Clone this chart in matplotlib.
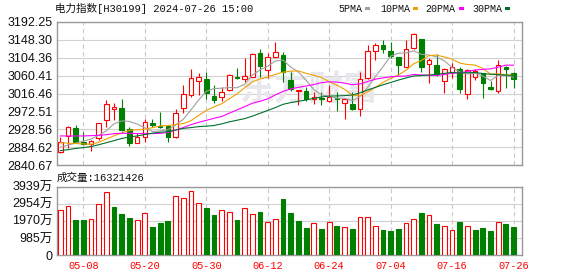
import matplotlib
matplotlib.use('Agg')
import matplotlib.pyplot as plt
from matplotlib.patches import Rectangle
import numpy as np
import pandas as pd

# ---------------- data ----------------
dates = ['04-30', '05-06', '05-07', '05-08', '05-09', '05-10', '05-13', '05-14', '05-15', '05-16',
         '05-17', '05-20', '05-21', '05-22', '05-23', '05-24', '05-27', '05-28', '05-29', '05-30',
         '05-31', '06-03', '06-04', '06-05', '06-06', '06-07', '06-11', '06-12', '06-13', '06-14',
         '06-17', '06-18', '06-19', '06-20', '06-21', '06-24', '06-25', '06-26', '06-27', '06-28',
         '07-01', '07-02', '07-03', '07-04', '07-05', '07-08', '07-09', '07-10', '07-11', '07-12',
         '07-15', '07-16', '07-17', '07-18', '07-19', '07-22', '07-23', '07-24', '07-25', '07-26']

opens = [2874.1, 2912.5, 2932.0, 2898.6, 2892.9, 2906.8, 2951.6, 2977.7, 2981.0, 2928.8,
         2896.1, 2909.2, 2944.3, 2936.9, 2936.9, 2909.2, 2980.2, 3012.0, 3047.9, 3052.8,
         3010.3, 3007.1, 3025.0, 3057.7, 3052.8, 3057.7, 3114.8, 3074.0, 3105.0, 3110.7,
         3049.5, 3023.4, 3022.6, 3002.2, 3006.3, 2998.9, 3005.5, 2992.4, 2990.8, 2977.7,
         3053.6, 3120.5, 3135.2, 3120.5, 3105.0, 3082.1, 3127.0, 3149.0, 3088.7, 3086.2,
         3047.9, 3069.9, 3075.6, 3014.4, 3057.7, 3065.8, 3031.6, 3023.4, 3080.5, 3067.4]

closes = [2898.6, 2933.7, 2898.6, 2892.9, 2901.0, 2943.5, 2990.8, 2984.2, 2927.2, 2894.5,
          2910.8, 2945.9, 2938.6, 2934.5, 2909.2, 2967.9, 3015.2, 3053.6, 3056.0, 3016.9,
          3000.6, 3020.1, 3061.7, 3053.6, 3059.3, 3113.1, 3084.6, 3105.0, 3118.8, 3069.9,
          3026.7, 3025.0, 3002.2, 3007.1, 3003.8, 3008.7, 3002.2, 3003.0, 2977.7, 3051.1,
          3121.3, 3135.2, 3124.5, 3108.2, 3086.2, 3124.5, 3161.3, 3082.1, 3098.4, 3063.4,
          3075.6, 3082.1, 3026.7, 3073.9, 3072.3, 3041.3, 3026.7, 3086.2, 3075.6, 3051.1]

highs = [2909.2, 2937.0, 2938.6, 2923.1, 2902.7, 2944.5, 3000.6, 2992.4, 3003.0, 2935.3,
         2920.6, 2953.2, 2953.2, 2972.0, 2939.4, 2977.7, 3037.3, 3076.4, 3067.4, 3069.1,
         3036.4, 3033.2, 3064.2, 3078.1, 3102.5, 3116.4, 3125.4, 3114.8, 3143.3, 3118.8,
         3069.9, 3025.8, 3033.2, 3019.3, 3020.9, 3037.3, 3020.9, 3004.6, 3020.9, 3069.9,
         3135.2, 3139.2, 3147.4, 3143.3, 3106.6, 3147.4, 3163.7, 3150.0, 3104.2, 3112.3,
         3078.1, 3090.3, 3082.1, 3075.6, 3075.6, 3067.4, 3047.9, 3098.4, 3083.8, 3069.9]

lows = [2871.7, 2882.3, 2896.1, 2890.4, 2876.6, 2902.7, 2933.7, 2951.6, 2925.5, 2888.0,
        2894.5, 2897.8, 2933.7, 2931.2, 2898.6, 2907.5, 2969.5, 3007.1, 3012.0, 3003.8,
        2992.4, 2997.3, 3023.4, 3052.8, 3045.4, 3056.5, 3056.0, 3053.6, 3104.2, 3045.4,
        3022.6, 2988.3, 2998.1, 2989.9, 2988.3, 2996.5, 2974.5, 2954.9, 2976.1, 2962.2,
        3051.9, 3098.4, 3114.8, 3104.2, 3061.7, 3081.0, 3126.2, 3069.9, 3043.0, 3059.3,
        3018.5, 3053.6, 3016.9, 3002.2, 3049.5, 3006.3, 3026.0, 3018.5, 3030.7, 3030.7]

# volume in 万
volumes = [2594, 2824, 2017, 2017, 2056, 2940, 3631, 2766, 2363, 2152,
           2017, 2421, 1614, 1864, 1960, 3400, 3285, 3689, 2997, 2709,
           2305, 2594, 2478, 2017, 2709, 2363, 2478, 1902, 2075, 3228,
           2440, 1960, 1575, 1844, 1498, 1902, 1671, 1614, 1498, 2171,
           2171, 1671, 1441, 1383, 1498, 1844, 2075, 2440, 2305, 1787,
           1671, 1441, 1902, 1671, 1441, 1556, 1383, 1902, 1787, 1632]

# moving-average values for the warm-up sessions
ma5_head = [2885.0, 2890.0, 2895.0, 2900.0]
ma10_head = [2896.0, 2895.0, 2894.0, 2893.0, 2892.0, 2897.0, 2905.0, 2913.0, 2920.0]
ma20_head = [2912.5, 2912.5, 2912.5, 2912.5, 2913.3, 2914.1, 2915.7, 2918.2, 2919.0, 2919.0,
             2918.5, 2918.2, 2918.2, 2919.0, 2921.0, 2927.0, 2933.0, 2940.0, 2946.0]
ma30_head = [2876.6, 2879.0, 2882.0, 2884.0, 2886.5, 2891.0, 2896.0, 2901.0, 2906.5, 2910.0,
             2912.5, 2916.0, 2919.5, 2921.5, 2923.0, 2927.0, 2931.0, 2933.0, 2935.3, 2936.5,
             2938.0, 2942.0, 2947.0, 2951.0, 2955.0, 2961.0, 2968.0, 2975.0, 2982.0]

price_ticks = [2840.67, 2884.62, 2928.56, 2972.51, 3016.46, 3060.41, 3104.36, 3148.30, 3192.25]
vol_ticks = [0, 985, 1970, 2954, 3939]
vol_tick_labels = ['0', '985万', '1970万', '2954万', '3939万']
xtick_labels = ['05-08', '05-20', '05-30', '06-12', '06-24', '07-04', '07-16', '07-26']
ma_names = ['5PMA', '10PMA', '20PMA', '30PMA']
title_text = '电力指数[H30199] 2024-07-26 15:00'
vol_title = '成交量:16321426'

# ---------------- styles ----------------
RED = '#ff0000'
GREEN = '#008000'
MA_COLORS = ['#a0a0a0', '#f0a000', '#ff00ff', '#00702f']
GRID = '#d2d2d2'
VGRID = '#c8c8c8'
BORDER = '#999999'
W, H = 578, 276

fig = plt.figure(figsize=(W / 100, H / 100), dpi=100)
fig.patch.set_facecolor('white')


def fx(px):
    return px / W


def fy(py):
    return 1 - py / H


ax = fig.add_axes([fx(57), fy(165.3), (522 - 57) / W, (165.3 - 21.7) / H])
axv = fig.add_axes([fx(57), fy(255), (522 - 57) / W, (255 - 186.7) / H])

n = len(dates)
x = np.arange(n)
o = np.array(opens)
c = np.array(closes)
h = np.array(highs)
l = np.array(lows)
up = c >= o
body_lo = np.minimum(o, c)
body_hi = np.maximum(o, c)
body_h = np.maximum(body_hi - body_lo, 0.3)
cols = np.where(up, RED, GREEN)

xlim = (-0.43, 60.1)
tick_pos = [dates.index(d) for d in xtick_labels]

for a in (ax, axv):
    a.set_xlim(*xlim)
    a.set_xticks(tick_pos)
    a.grid(axis='x', color=VGRID, linestyle=(0, (4, 3)), linewidth=0.8)
    a.grid(axis='y', color=GRID, linestyle='-', linewidth=0.8)
    a.set_axisbelow(True)
    for s in a.spines.values():
        s.set_color(BORDER)
        s.set_linewidth(1.0)
    a.tick_params(length=0)

# candles
bw = 0.6
ax.vlines(x, body_hi, h, colors=cols, linewidth=0.8, zorder=2)
ax.vlines(x, l, body_lo, colors=cols, linewidth=0.8, zorder=2)
ax.bar(x[up], body_h[up], bottom=body_lo[up], width=bw, facecolor='white',
       edgecolor=RED, linewidth=0.8, zorder=3)
ax.bar(x[~up], body_h[~up], bottom=body_lo[~up], width=bw, facecolor=GREEN,
       edgecolor=GREEN, linewidth=0.8, zorder=3)

# moving averages
cs = pd.Series(closes)
heads = [ma5_head, ma10_head, ma20_head, ma30_head]
for (win, head, col) in zip([5, 10, 20, 30], heads, MA_COLORS):
    ma = cs.rolling(win).mean().to_numpy()
    ma[:len(head)] = head
    ax.plot(x, ma, color=col, linewidth=0.8, zorder=4)

ax.set_ylim(price_ticks[0], price_ticks[-1])
ax.set_yticks(price_ticks)
ax.set_yticklabels(['%.2f' % v for v in price_ticks], family='Liberation Sans',
                   fontsize=9, color='#111111')
ax.tick_params(axis='y', pad=3)
ax.set_xticklabels([])

# watermark
ax.text(0.542, 0.53, '东方财富', transform=ax.transAxes, ha='center', va='center',
        fontsize=25, color='#e7e7ec', family='Noto Sans CJK SC', fontweight='bold', zorder=1)

# volume
vol_up = [True] + [closes[i] >= closes[i - 1] for i in range(1, n)]
vol_up = np.array(vol_up)
v = np.array(volumes)
axv.bar(x[vol_up], v[vol_up], width=0.62, facecolor='white', edgecolor=RED,
        linewidth=0.8, zorder=3)
axv.bar(x[~vol_up], v[~vol_up], width=0.62, facecolor=GREEN, edgecolor=GREEN,
        linewidth=0.8, zorder=3)
axv.set_ylim(0, vol_ticks[-1])
axv.set_yticks(vol_ticks)
axv.set_yticklabels(vol_tick_labels, family=['Liberation Sans', 'Noto Sans CJK SC'],
                    fontsize=9, color='#111111')
axv.tick_params(axis='y', pad=3)
axv.set_xticklabels(xtick_labels, family='Liberation Mono', fontsize=7.4, color=RED)
axv.tick_params(axis='x', pad=4)

# texts
fig.text(fx(55), fy(8.5), title_text, family=['Liberation Mono', 'Noto Sans CJK SC'],
         fontsize=7.6, va='center', ha='left', color='#111111')
fig.text(fx(57), fy(177.5), vol_title, family=['Liberation Mono', 'Noto Sans CJK SC'],
         fontsize=7.6, va='center', ha='left', color='#111111')

# legend
leg_text_x = [338, 380, 425, 472]
leg_box_x = [365, 413, 459, 505]
for name, col, tx, bx in zip(ma_names, MA_COLORS, leg_text_x, leg_box_x):
    fig.text(fx(tx), fy(8.8), name, family='Liberation Mono', fontsize=7.2,
             va='center', ha='left', color='#111111')
    fig.add_artist(Rectangle((fx(bx), fy(10.3)), 5 / W, 3 / H, transform=fig.transFigure,
                             facecolor=col, edgecolor='none'))

fig.savefig('out.png', dpi=100, facecolor='white')
